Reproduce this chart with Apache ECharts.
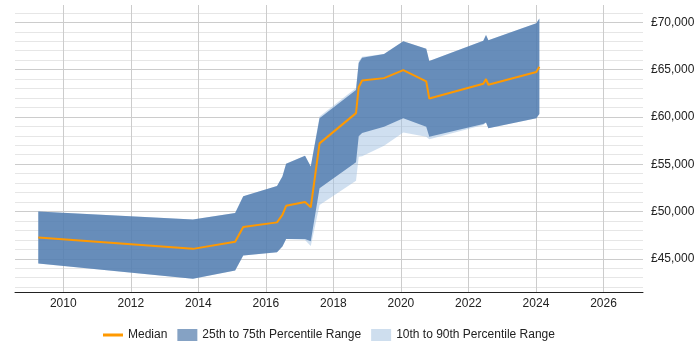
<!DOCTYPE html>
<html><head><meta charset="utf-8">
<script src="https://cdn.jsdelivr.net/npm/echarts@6/dist/echarts.min.js"></script>
<style>html,body{margin:0;padding:0;background:#fff}#c{width:700px;height:350px}</style>
</head><body><div id="c"></div>
<script>
const years  = [2009.26, 2013.84, 2015.09, 2015.33, 2016.33, 2016.49, 2016.60, 2017.16, 2017.33, 2017.59, 2018.67, 2018.75, 2018.85, 2019.50, 2020.07, 2020.75, 2020.84, 2022.44, 2022.52, 2022.59, 2024.01, 2024.10];
const p10    = [44500, 42900, 43750, 45350, 45700, 46300, 47100, 47000, 46350, 50700, 53250, 55800, 55850, 56950, 58350, 57900, 57650, 59150, 59400, 58800, 59850, 60300];
const p25    = [44500, 42900, 43750, 45350, 45700, 46300, 47100, 47100, 46850, 52450, 55200, 57950, 58300, 58950, 59850, 58950, 57900, 59250, 59400, 58800, 59850, 60300];
const median = [47250, 46050, 46800, 48350, 48850, 49650, 50600, 51000, 50450, 57200, 60400, 63150, 63850, 64100, 64950, 63750, 61950, 63500, 64000, 63400, 64750, 65300];
const p75    = [50000, 49150, 49850, 51600, 52700, 53700, 55050, 55900, 54750, 59850, 62850, 65700, 66250, 66650, 68000, 67200, 65900, 68050, 68650, 68100, 69900, 70400];
const p90    = [50000, 49150, 49850, 51600, 52700, 53700, 55050, 55900, 54750, 60050, 63050, 65850, 66350, 66650, 68000, 67200, 65900, 68050, 68650, 68100, 69900, 70400];
const xTicks = [2010, 2012, 2014, 2016, 2018, 2020, 2022, 2024, 2026];
const yTicks = [45000, 50000, 55000, 60000, 65000, 70000];
const yMinor = [42000, 43000, 44000, 46000, 47000, 48000, 49000, 51000, 52000, 53000, 54000, 56000, 57000, 58000, 59000, 61000, 62000, 63000, 64000, 66000, 67000, 68000, 69000, 71000];

const X_MIN = 2008.57, X_MAX = 2027.17, Y_MIN = 41490, Y_MAX = 71830;
const FONT = '"Liberation Sans", Arial, sans-serif';
const DARK = 'rgba(68,114,168,0.75)';
const LIGHT = 'rgba(160,192,225,0.5)';

// band polygon between two percentile arrays, positioned through the axes via api.coord
function band(name, lo, hi, color, z) {
  return {
    name, type: 'custom', z, silent: true, clip: true,
    itemStyle: { color },
    encode: { x: 0, y: [1, 2] },
    data: years.map((x, i) => [x, lo[i], hi[i]]),
    renderItem: (params, api) => {
      if (params.dataIndex !== 0) return null;
      const top = years.map((x, i) => api.coord([x, hi[i]]));
      const bot = years.map((x, i) => api.coord([x, lo[i]])).reverse();
      return { type: 'polygon', shape: { points: top.concat(bot) }, style: { fill: color, stroke: null } };
    }
  };
}

const chart = echarts.init(document.getElementById('c'), null, { renderer: 'canvas' });
chart.setOption({
  animation: false,
  grid: { left: 15, right: 57, top: 5, bottom: 58 },
  xAxis: {
    type: 'value', min: X_MIN, max: X_MAX,
    axisLine: { show: true, lineStyle: { color: '#222', width: 1 } },
    axisTick: { show: false, customValues: xTicks },
    axisLabel: { customValues: xTicks, color: '#222', fontSize: 12, fontFamily: FONT, margin: 6,
      formatter: v => String(Math.round(v)) },
    splitLine: { show: true, lineStyle: { color: '#cccccc', width: 1 } }
  },
  yAxis: [{
    type: 'value', position: 'right', min: Y_MIN, max: Y_MAX,
    axisLine: { show: false }, axisTick: { show: false, customValues: yTicks },
    axisLabel: { customValues: yTicks, color: '#222', fontSize: 12, fontFamily: FONT, margin: 8,
      formatter: v => '£' + Math.round(v).toLocaleString('en-GB') },
    splitLine: { show: true, lineStyle: { color: '#cccccc', width: 1 } }
  }, {
    type: 'value', position: 'right', min: Y_MIN, max: Y_MAX,
    axisLine: { show: false }, axisTick: { show: false, customValues: yMinor },
    axisLabel: { show: false, customValues: yMinor },
    splitLine: { show: true, lineStyle: { color: '#e6e6e6', width: 1 } }
  }],
  legend: {
    left: 98, top: 324, itemWidth: 20, itemHeight: 12, itemGap: 10,
    textStyle: { fontSize: 12, color: '#222', fontFamily: FONT },
    selectedMode: false,
    data: [
      { name: 'Median', icon: 'path://M0,0L0.001,0ZM0,4.5H20V7.5H0ZM20,12L19.999,12Z', itemStyle: { color: '#ff9900', borderWidth: 0 } },
      { name: '25th to 75th Percentile Range', icon: 'rect', itemStyle: { color: 'rgb(133,162,196)', borderWidth: 0 } },
      { name: '10th to 90th Percentile Range', icon: 'rect', itemStyle: { color: 'rgb(206,222,238)', borderWidth: 0 } }
    ]
  },
  series: [
    band('10th to 90th Percentile Range', p10, p90, LIGHT, 1),
    band('25th to 75th Percentile Range', p25, p75, DARK, 2),
    { name: 'Median', type: 'line', data: years.map((x, i) => [x, median[i]]), symbol: 'none', z: 5,
      lineStyle: { color: '#ff9900', width: 2 }, itemStyle: { color: '#ff9900' } }
  ]
});
</script>
</body></html>
